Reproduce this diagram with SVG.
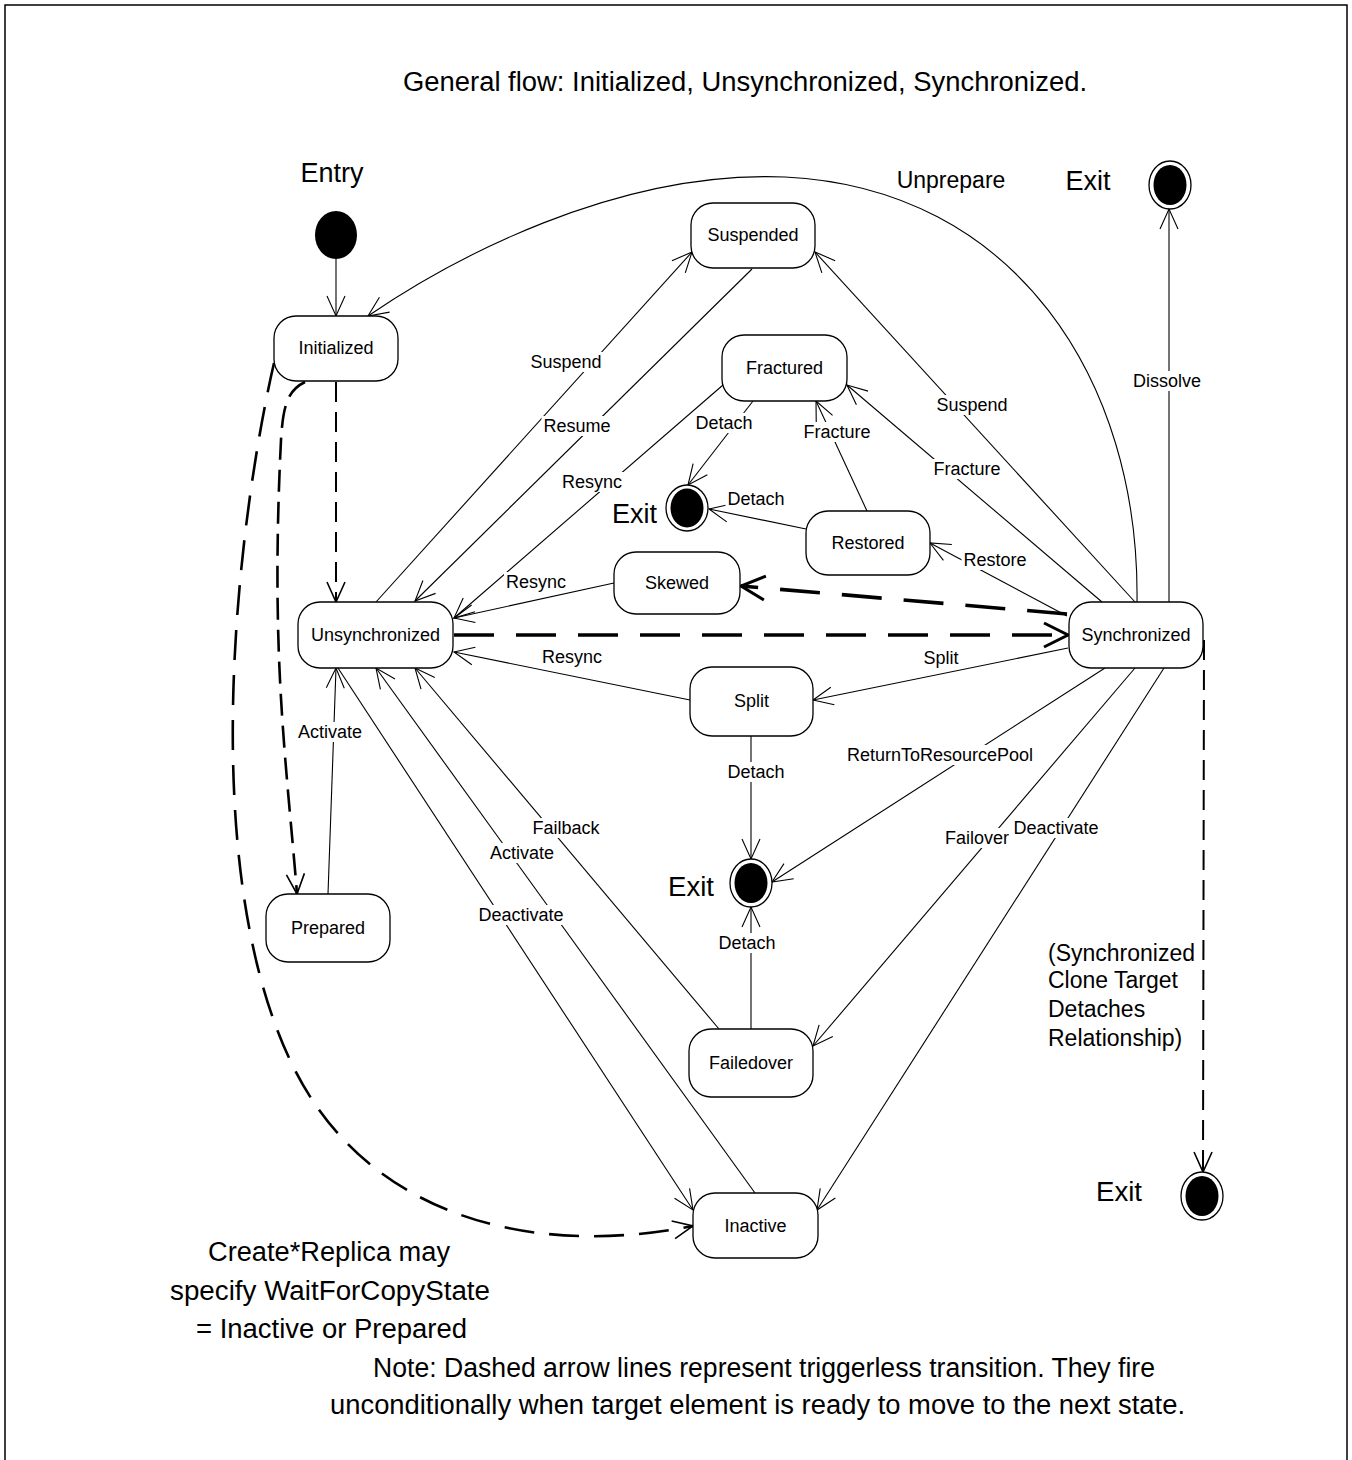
<svg xmlns="http://www.w3.org/2000/svg" width="1352" height="1460" viewBox="0 0 1352 1460">
<defs>
<style>
text{font-family:"Liberation Sans",Arial,sans-serif;fill:#000}
.st rect{fill:#fff;stroke:#000;stroke-width:1.3}
.st text{font-size:18px;text-anchor:middle}
.t{fill:none;stroke:#000;stroke-width:1.1;marker-end:url(#ah)}
.dm{fill:none;stroke:#000;stroke-width:2;stroke-dasharray:20 10;marker-end:url(#ahm)}
.dk{fill:none;stroke:#000;stroke-width:2.6;marker-end:url(#ahm)}
.dt{fill:none;stroke:#000;stroke-width:3.6;stroke-dasharray:40 22;marker-end:url(#aht)}
.lb rect{fill:#fff;stroke:none}
.lb text{font-size:18px;text-anchor:middle}
.big{font-size:27px;text-anchor:middle}
.exo{fill:#fff;stroke:#000;stroke-width:1.3}
</style>
<marker id="ah" markerWidth="22" markerHeight="20" refX="20" refY="10" orient="auto" markerUnits="userSpaceOnUse" overflow="visible">
<path d="M0,1 L20,10 L0,19" fill="none" stroke="#000" stroke-width="1.1"/>
</marker>
<marker id="ahm" markerWidth="22" markerHeight="20" refX="20" refY="10" orient="auto" markerUnits="userSpaceOnUse" overflow="visible">
<path d="M0,1 L20,10 L0,19" fill="none" stroke="#000" stroke-width="1.6"/>
</marker>
<marker id="aht" markerWidth="26" markerHeight="24" refX="24" refY="12" orient="auto" markerUnits="userSpaceOnUse" overflow="visible">
<path d="M0,0 L24,12 L0,24" fill="none" stroke="#000" stroke-width="3"/>
</marker>
</defs>
<rect x="5" y="5" width="1342" height="1470" fill="#fff" stroke="#000" stroke-width="1.5"/>

<text class="big" x="745" y="91" textLength="684" lengthAdjust="spacingAndGlyphs">General flow: Initialized, Unsynchronized, Synchronized.</text>
<text class="big" x="332" y="182">Entry</text>
<text x="951" y="188" font-size="23" text-anchor="middle">Unprepare</text>
<text class="big" x="1088" y="190" font-size="28" textLength="45" lengthAdjust="spacingAndGlyphs">Exit</text>
<text class="big" x="634.5" y="523" font-size="28" textLength="45" lengthAdjust="spacingAndGlyphs">Exit</text>
<text class="big" x="691" y="896" font-size="28" textLength="46" lengthAdjust="spacingAndGlyphs">Exit</text>
<text class="big" x="1119" y="1201" font-size="28" textLength="46" lengthAdjust="spacingAndGlyphs">Exit</text>
<g font-size="23">
<text x="1048" y="961">(Synchronized</text>
<text x="1048" y="988">Clone Target</text>
<text x="1048" y="1017">Detaches</text>
<text x="1048" y="1046">Relationship)</text>
</g>
<text class="big" x="329" y="1261" textLength="242" lengthAdjust="spacingAndGlyphs">Create*Replica may</text>
<text class="big" x="330" y="1300" textLength="320" lengthAdjust="spacingAndGlyphs">specify WaitForCopyState</text>
<text class="big" x="331.5" y="1338" textLength="271" lengthAdjust="spacingAndGlyphs">= Inactive or Prepared</text>
<text class="big" x="764" y="1377" textLength="782" lengthAdjust="spacingAndGlyphs">Note: Dashed arrow lines represent triggerless transition. They fire</text>
<text class="big" x="757.5" y="1414" textLength="855" lengthAdjust="spacingAndGlyphs">unconditionally when target element is ready to move to  the next state.</text>

<g id="connectors">
<path class="t" d="M336,259 L336,316"/>
<path class="t" d="M1137,602 C1140,380 1015,188 785,177 C615,170 450,260 368,316"/>
<path class="t" d="M376,602 L692,252"/>
<path class="t" d="M752,269 L415,601"/>
<path class="t" d="M723,385 L454,618"/>
<path class="t" d="M753,401 L688,485"/>
<path class="t" d="M806,529 L709,509"/>
<path class="t" d="M867,511 L816,401"/>
<path class="t" d="M1135,602 L815,252"/>
<path class="t" d="M1102,602 L847,385"/>
<path class="t" d="M1067,616 L930,543"/>
<path class="t" d="M614,583 L454,618"/>
<path class="t" d="M690,700 L454,652"/>
<path class="t" d="M1068,648 L813,700"/>
<path class="t" d="M751,736 L751,859"/>
<path class="t" d="M1105,668 L772,882"/>
<path class="t" d="M1135,668 L813,1046"/>
<path class="t" d="M1164,668 L817,1210"/>
<path class="t" d="M1169,602 L1169,209"/>
<path class="t" d="M751,1029 L751,907"/>
<path class="t" d="M328,894 L336,668"/>
<path class="t" d="M338,668 L693,1210"/>
<path class="t" d="M755,1193 L376,668"/>
<path class="t" d="M719,1029 L415,668"/>
<path class="dm" d="M336,382 L336,602"/>
<path class="dk" stroke-dasharray="22 10" d="M305,382 C288,390 283,405 281,440 C277,520 276,600 280,680 C284,760 292,830 297,894"/>
<path class="dk" stroke-dasharray="30 15" d="M274,363 C238,520 196,860 290,1060 C360,1210 520,1260 693,1226"/>
<path class="dt" d="M454,635 L1068,635"/>
<path class="dt" stroke-width="3" stroke-dasharray="34 20" d="M1067,614 L741,586"/>
<path class="dm" stroke-dasharray="24 10" d="M1204,640 L1203,1172"/>
</g>

<g id="labels">
<g class="lb"><rect x="528.5" y="352" width="75" height="20"/><text x="566" y="368">Suspend</text></g>
<g class="lb"><rect x="541.5" y="416" width="71" height="20"/><text x="577" y="432">Resume</text></g>
<g class="lb"><rect x="560" y="472" width="64" height="20"/><text x="592" y="488">Resync</text></g>
<g class="lb"><rect x="693.5" y="413" width="61" height="20"/><text x="724" y="429">Detach</text></g>
<g class="lb"><rect x="725.5" y="489" width="61" height="20"/><text x="756" y="505">Detach</text></g>
<g class="lb"><rect x="801.5" y="422" width="71" height="20"/><text x="837" y="438">Fracture</text></g>
<g class="lb"><rect x="934.5" y="395" width="75" height="20"/><text x="972" y="411">Suspend</text></g>
<g class="lb"><rect x="931.5" y="459" width="71" height="20"/><text x="967" y="475">Fracture</text></g>
<g class="lb"><rect x="961.5" y="550" width="67" height="20"/><text x="995" y="566">Restore</text></g>
<g class="lb"><rect x="504" y="572" width="64" height="20"/><text x="536" y="588">Resync</text></g>
<g class="lb"><rect x="540" y="647" width="64" height="20"/><text x="572" y="663">Resync</text></g>
<g class="lb"><rect x="921.5" y="648" width="39" height="20"/><text x="941" y="664">Split</text></g>
<g class="lb"><rect x="725.5" y="762" width="61" height="20"/><text x="756" y="778">Detach</text></g>
<g class="lb"><rect x="844" y="745" width="192" height="20"/><text x="940" y="761">ReturnToResourcePool</text></g>
<g class="lb"><rect x="943" y="828" width="68" height="20"/><text x="977" y="844">Failover</text></g>
<g class="lb"><rect x="1011.5" y="818" width="89" height="20"/><text x="1056" y="834">Deactivate</text></g>
<g class="lb"><rect x="716.5" y="933" width="61" height="20"/><text x="747" y="949">Detach</text></g>
<g class="lb"><rect x="530.5" y="818" width="71" height="20"/><text x="566" y="834">Failback</text></g>
<g class="lb"><rect x="488" y="843" width="68" height="20"/><text x="522" y="859">Activate</text></g>
<g class="lb"><rect x="476.5" y="905" width="89" height="20"/><text x="521" y="921">Deactivate</text></g>
<g class="lb"><rect x="296" y="722" width="68" height="20"/><text x="330" y="738">Activate</text></g>
<g class="lb"><rect x="1131" y="371" width="72" height="20"/><text x="1167" y="387">Dissolve</text></g>
</g>

<g id="entry"><ellipse cx="336" cy="235" rx="21" ry="24" fill="#000"/></g>
<g id="exit1"><ellipse class="exo" cx="1170" cy="185" rx="21" ry="24"/><ellipse cx="1170" cy="185" rx="16.5" ry="20" fill="#000"/></g>
<g id="exit2"><ellipse class="exo" cx="687" cy="508" rx="21" ry="23"/><ellipse cx="687" cy="508" rx="16.5" ry="19.5" fill="#000"/></g>
<g id="exit3"><ellipse class="exo" cx="751" cy="883" rx="21" ry="24"/><ellipse cx="751" cy="883" rx="16.5" ry="20" fill="#000"/></g>
<g id="exit4"><ellipse class="exo" cx="1202" cy="1196" rx="21" ry="24"/><ellipse cx="1202" cy="1196" rx="16.5" ry="20" fill="#000"/></g>

<g id="initialized" class="st"><rect x="274" y="316" width="124" height="65" rx="22"/><text x="336" y="354">Initialized</text></g>
<g id="suspended" class="st"><rect x="691" y="203" width="124" height="65" rx="22"/><text x="753" y="241">Suspended</text></g>
<g id="fractured" class="st"><rect x="722" y="335" width="125" height="66" rx="22"/><text x="784.5" y="374">Fractured</text></g>
<g id="restored" class="st"><rect x="806" y="511" width="124" height="64" rx="22"/><text x="868" y="549">Restored</text></g>
<g id="skewed" class="st"><rect x="614" y="552" width="126" height="62" rx="22"/><text x="677" y="589">Skewed</text></g>
<g id="unsynchronized" class="st"><rect x="298" y="602" width="155" height="66" rx="22"/><text x="375.5" y="641">Unsynchronized</text></g>
<g id="synchronized" class="st"><rect x="1069" y="602" width="134" height="66" rx="22"/><text x="1136" y="641">Synchronized</text></g>
<g id="split" class="st"><rect x="690" y="667" width="123" height="69" rx="22"/><text x="751.5" y="707">Split</text></g>
<g id="prepared" class="st"><rect x="266" y="894" width="124" height="68" rx="22"/><text x="328" y="934">Prepared</text></g>
<g id="failedover" class="st"><rect x="689" y="1029" width="124" height="68" rx="22"/><text x="751" y="1069">Failedover</text></g>
<g id="inactive" class="st"><rect x="693" y="1193" width="125" height="65" rx="22"/><text x="755.5" y="1232">Inactive</text></g>
</svg>
